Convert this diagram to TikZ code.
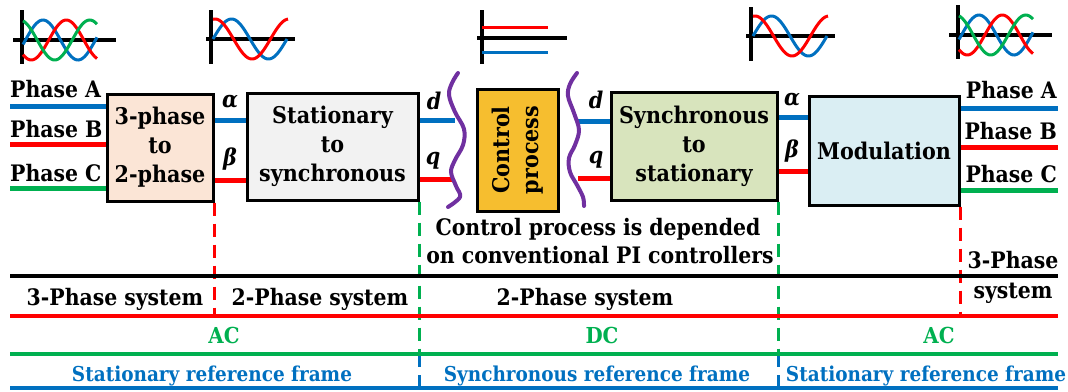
\documentclass[tikz,border=0pt]{standalone}
\usepackage{fontspec}
\setmainfont{DejaVu Serif Condensed}
\definecolor{cblue}{HTML}{0070C0}
\definecolor{cred}{HTML}{FF0000}
\definecolor{cgreen}{HTML}{00B050}
\definecolor{cpurple}{HTML}{7030A0}
\definecolor{fpeach}{HTML}{FBE5D6}
\definecolor{fgray}{HTML}{F2F2F2}
\definecolor{fgold}{HTML}{F6BE2F}
\definecolor{folive}{HTML}{D8E4BD}
\definecolor{faqua}{HTML}{DAEEF3}
\tikzset{
  blk/.style={draw=black, line width=3, align=center, inner sep=0pt,
    font=\fontsize{23}{29}\selectfont\bfseries},
  axis/.style={line width=4, black},
  wave/.style={line width=3},
  conn/.style={line width=5},
  lbl/.style={font=\fontsize{22.7}{26}\selectfont\bfseries, inner sep=0pt},
  gr/.style={font=\fontsize{23}{26}\selectfont\bfseries\itshape, inner sep=0pt},
  small/.style={font=\fontsize{20.5}{22}\selectfont\bfseries, inner sep=0pt},
  hline/.style={line width=4},
  dsh/.style={line width=3.5, dash pattern=on 13pt off 8pt},
  brace/.style={line width=4, cpurple, line cap=round},
}
\begin{document}
\begin{tikzpicture}[x=1pt,y=-1pt]
\useasboundingbox (0,0) rectangle (1068,391);

% ---------- waveforms ----------
\begin{scope}
  \draw[axis] (22,10) -- (22,64);
  \draw[axis] (13,40) -- (116,40);
  \draw[wave,cblue] plot[domain=23:97,samples=60] (\x,{40-20*cos((\x-43)/70*360)});
  \draw[wave,cred] plot[domain=23:97,samples=60] (\x,{40-20*cos((\x-66.3)/70*360)});
  \draw[wave,cgreen] plot[domain=23:97,samples=60] (\x,{40-20*cos((\x-89.7)/70*360)});
\end{scope}
\begin{scope}[shift={(936,-5)}]
  \draw[axis] (22,10) -- (22,64);
  \draw[axis] (13,40) -- (116,40);
  \draw[wave,cblue] plot[domain=23:97,samples=60] (\x,{40-20*cos((\x-43)/70*360)});
  \draw[wave,cred] plot[domain=23:97,samples=60] (\x,{40-20*cos((\x-66.3)/70*360)});
  \draw[wave,cgreen] plot[domain=23:97,samples=60] (\x,{40-20*cos((\x-89.7)/70*360)});
\end{scope}
\begin{scope}
  \draw[axis] (211,10) -- (211,64);
  \draw[axis] (206,39) -- (295,39);
  \draw[wave,cblue] plot[domain=213:287,samples=60] (\x,{39-20*sin((\x-213)/74*360)});
  \draw[wave,cred] plot[domain=213:288,samples=60] (\x,{39-20*cos((\x-215)/74*360)});
\end{scope}
\begin{scope}[shift={(540,-3)}]
  \draw[axis] (211,10) -- (211,64);
  \draw[axis] (206,39) -- (295,39);
  \draw[wave,cblue] plot[domain=213:287,samples=60] (\x,{39-20*sin((\x-213)/74*360)});
  \draw[wave,cred] plot[domain=213:288,samples=60] (\x,{39-20*cos((\x-215)/74*360)});
\end{scope}
\begin{scope}
  \draw[axis] (482,10) -- (482,64);
  \draw[axis] (477,38) -- (567,38);
  \draw[wave,cred] (482,27) -- (548,27);
  \draw[wave,cblue] (482,52) -- (548,52);
\end{scope}

% ---------- blocks ----------
\node[blk, fill=fpeach, minimum width=106, minimum height=107] (b1) at (160,147.5) {3-phase\\to\\2-phase};
\node[blk, fill=fgray, minimum width=171, minimum height=107] (b2) at (332.5,146.5) {Stationary\\to\\synchronous};
\node[blk, fill=fgold, minimum width=81, minimum height=122] (b3) at (518,150) {};
\node[font=\fontsize{23}{29}\selectfont\bfseries, rotate=90, align=center, inner sep=0pt] (b3t) at (b3.center) {Control\\process};
\node[blk, fill=folive, minimum width=166, minimum height=108] (b4) at (694,146) {Synchronous\\to\\stationary};
\node[blk, fill=faqua, minimum width=150, minimum height=109] (b5) at (884,150.5) {Modulation};

% ---------- phase inputs / outputs ----------
\coordinate (aL) at (10,106);
\coordinate (bL) at (10,144);
\coordinate (cL) at (10,188);
\draw[conn,cblue] (aL) -- (aL -| b1.west);
\draw[conn,cred] (bL) -- (bL -| b1.west);
\draw[conn,cgreen] (cL) -- (cL -| b1.west);
\node[lbl, anchor=base west] (tA) at (10,97) {Phase A};
\node[lbl, anchor=base west] (tB) at (10,137) {Phase B};
\node[lbl, anchor=base west] (tC) at (10,181) {Phase C};

\coordinate (aR) at (1058,108);
\coordinate (bR) at (1058,147);
\coordinate (cR) at (1058,190);
\draw[conn,cblue] (aR -| b5.east) -- (aR);
\draw[conn,cred] (bR -| b5.east) -- (bR);
\draw[conn,cgreen] (cR -| b5.east) -- (cR);
\node[lbl, anchor=base east] (tA2) at (1057,98) {Phase A};
\node[lbl, anchor=base east] (tB2) at (1057,139) {Phase B};
\node[lbl, anchor=base east] (tC2) at (1057,182) {Phase C};

% ---------- inter-block connectors ----------
\draw[conn,cblue] (b1.east |- 0,120) -- (b2.west |- 0,120);
\draw[conn,cred] (b1.east |- 0,180) -- (b2.west |- 0,180);
\node[gr] (al1) at (230,102) {α};
\node[gr] (be1) at (230,159) {β};

\coordinate (dL) at (455,120);
\coordinate (qL) at (452,179);
\draw[conn,cblue] (b2.east |- dL) -- (dL);
\draw[conn,cred] (b2.east |- qL) -- (qL);
\node[gr] (d1) at (434,101) {d};
\node[gr] (q1) at (433,161) {q};

\coordinate (dR) at (577,121);
\coordinate (qR) at (578,178);
\draw[conn,cblue] (dR) -- (dR -| b4.west);
\draw[conn,cred] (qR) -- (qR -| b4.west);
\node[gr] (d2) at (596,100) {d};
\node[gr] (q2) at (596,160) {q};

\draw[conn,cblue] (b4.east |- 0,117) -- (b5.west |- 0,117);
\draw[conn,cred] (b4.east |- 0,171) -- (b5.west |- 0,171);
\node[gr] (al2) at (792,100) {α};
\node[gr] (be2) at (792,151) {β};

% ---------- braces ----------
\draw[brace] plot[smooth,tension=0.6] coordinates {(458,73) (452,83) (449,95) (455,112) (464,129) (463,145) (455,160) (451,172) (456,186) (460,197) (448,207)};
\draw[brace] plot[smooth,tension=0.6] coordinates {(577,73) (570,84) (568,96) (574,113) (579,130) (575,145) (569,158) (570,172) (577,185) (583,197) (584,206)};

% ---------- dashed separators ----------
\draw[dsh,cred] (b1.south east) -- (b1.south east |- 0,316);
\draw[dsh,cgreen] (b2.south east) -- (b2.south east |- 0,354);
\draw[dsh,cblue] (b2.south east |- 0,354) -- (b2.south east |- 0,391);
\draw[dsh,cgreen] (b4.south east) -- (b4.south east |- 0,354);
\draw[dsh,cblue] (b4.south east |- 0,354) -- (b4.south east |- 0,391);
\draw[dsh,cred] (b5.south east) -- (b5.south east |- 0,316);

% ---------- horizontal bands ----------
\coordinate (k1) at (10,276); \coordinate (k2) at (1058,276);
\coordinate (r1) at (10,316); \coordinate (r2) at (1058,316);
\coordinate (g1) at (10,354); \coordinate (g2) at (1058,354);
\coordinate (u1) at (10,388); \coordinate (u2) at (1058,388);
\draw[hline,black] (k1) -- (k2);
\draw[hline,cred] (r1) -- (r2);
\draw[hline,cgreen] (g1) -- (g2);
\draw[hline,cblue] (u1) -- (u2);

% ---------- texts ----------
\node[lbl, align=center, anchor=base] (ctl) at (598,235) {Control process is depended};
\node[lbl, align=center, anchor=base] (ctl2) at (600,263) {on conventional PI controllers};
\node[lbl, anchor=base] (s1) at (115,305) {3-Phase system};
\node[lbl, anchor=base] (s2) at (320,305) {2-Phase system};
\node[lbl, anchor=base] (s3) at (585,305) {2-Phase system};
\node[lbl, anchor=base] (s4) at (1013,268) {3-Phase};
\node[lbl, anchor=base] (s5) at (1013,298) {system};
\node[small, font=\fontsize{22}{24}\selectfont\bfseries, cgreen, anchor=base] (ac1) at (224,343) {AC};
\node[small, font=\fontsize{22}{24}\selectfont\bfseries, cgreen, anchor=base] (dc1) at (602,343) {DC};
\node[small, font=\fontsize{22}{24}\selectfont\bfseries, cgreen, anchor=base] (ac2) at (939,343) {AC};
\node[small, cblue, anchor=base] (f1) at (212,381) {Stationary reference frame};
\node[small, cblue, anchor=base] (f2) at (597,381) {Synchronous reference frame};
\node[small, cblue, anchor=base] (f3) at (926,381) {Stationary reference frame};
\end{tikzpicture}
\end{document}
